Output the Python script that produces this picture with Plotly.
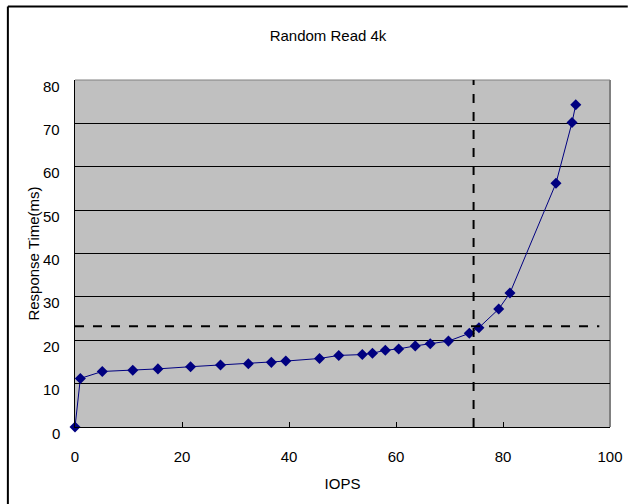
import plotly.graph_objects as go

title_text = "Random Read 4k"
x_title = "IOPS"
y_title = "Response Time(ms)"

iops = [0, 1.0, 5.1, 10.8, 15.5, 21.6, 27.2, 32.4, 36.7, 39.4, 45.7, 49.3,
        53.7, 55.6, 58.0, 60.5, 63.6, 66.4, 69.8, 73.7, 75.5, 79.2, 81.3,
        89.9, 92.9, 93.6]
resp_ms = [0, 11.2, 12.8, 13.1, 13.4, 13.9, 14.3, 14.6, 14.9, 15.2, 15.8, 16.5,
           16.7, 17.0, 17.7, 18.0, 18.7, 19.2, 19.8, 21.6, 22.9, 27.2, 30.9,
           56.2, 70.2, 74.3]

ref_iops = 74.5
ref_ms = 23.2
hline_end = 98

x_ticks = [0, 20, 40, 60, 80, 100]
y_ticks = [0, 10, 20, 30, 40, 50, 60, 70, 80]

font = "Liberation Sans, Arial, sans-serif"

fig = go.Figure()
fig.add_trace(go.Scatter(
    x=iops, y=resp_ms, mode="lines+markers",
    line=dict(color="#000080", width=1),
    marker=dict(symbol="diamond", size=8.5, color="#000080"),
    showlegend=False, cliponaxis=False))

# reference dashed lines
fig.add_shape(type="line", xref="x", yref="y", x0=ref_iops, x1=ref_iops, y0=0, y1=80,
              line=dict(color="black", width=2, dash="dash"), layer="above")
fig.add_shape(type="line", xref="x", yref="y", x0=0, x1=hline_end, y0=ref_ms, y1=ref_ms,
              line=dict(color="black", width=2, dash="dash"), layer="above")

# plot-area right/top border (grey)
fig.add_shape(type="line", xref="paper", yref="paper", x0=1, x1=1, y0=0, y1=1,
              line=dict(color="#808080", width=2), layer="below")
fig.add_shape(type="line", xref="paper", yref="paper", x0=0, x1=1, y0=1, y1=1,
              line=dict(color="#808080", width=1), layer="below")

# chart border (top and left)
fig.add_shape(type="line", xref="paper", yref="paper", x0=-68/542, x1=560/542,
              y0=1 + 73.5/347, y1=1 + 73.5/347, line=dict(color="black", width=2))
fig.add_shape(type="line", xref="paper", yref="paper", x0=-68/542, x1=-68/542,
              y0=-80/347, y1=1 + 73.5/347, line=dict(color="black", width=2))

# y tick labels (slightly below gridlines, as in reference)
for v in y_ticks:
    fig.add_annotation(x=0, xref="paper", y=v, yref="y", text=str(v),
                       showarrow=False, xanchor="right", xshift=-13, yshift=-6,
                       font=dict(family=font, size=15, color="black"))

fig.update_layout(
    width=635, height=504,
    margin=dict(l=75, r=18, t=80, b=77),
    paper_bgcolor="white",
    plot_bgcolor="#C0C0C0",
    title=dict(text=title_text, x=328/635, xanchor="center", y=1-36/504, yanchor="middle",
               font=dict(family=font, size=15, color="black")),
    font=dict(family=font, size=15, color="black"),
)
fig.update_xaxes(
    range=[0, 100], tickvals=x_ticks, ticktext=[str(t) for t in x_ticks],
    showgrid=False, zeroline=False,
    showline=True, linecolor="black", linewidth=1,
    ticks="inside", ticklen=5, tickcolor="black",
    ticklabelstandoff=16,
    tickfont=dict(family=font, size=15),
    title=dict(text=x_title, font=dict(family=font, size=15), standoff=14),
)
fig.update_yaxes(
    range=[0, 80], tickvals=y_ticks, showticklabels=False,
    showgrid=True, gridcolor="black", gridwidth=1, zeroline=False,
    showline=True, linecolor="black", linewidth=1,
    ticks="inside", ticklen=5, tickcolor="black",
    title=dict(text=y_title, font=dict(family=font, size=15), standoff=30),
)

fig.write_html("out.html")
